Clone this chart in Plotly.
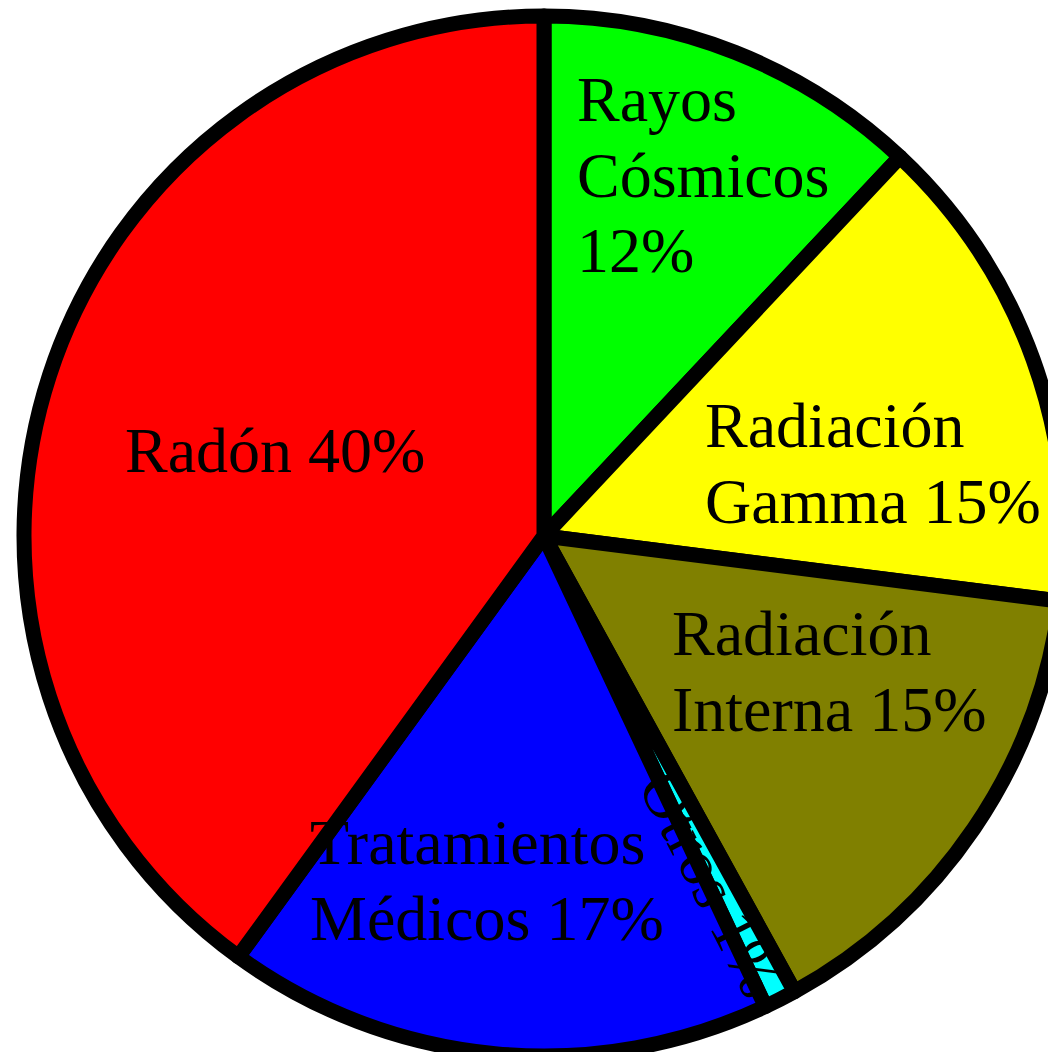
import plotly.graph_objects as go

# ---- data ----
categories = ["Rayos Cósmicos", "Radiación Gamma", "Radiación Interna", "Otros",
              "Tratamientos Médicos", "Radón"]
values = [12, 15, 15, 1, 17, 40]
label_lines = [["Rayos", "Cósmicos", "12%"], ["Radiación", "Gamma 15%"],
               ["Radiación", "Interna 15%"], ["Otros 1%"],
               ["Tratamientos", "Médicos 17%"], ["Radón 40%"]]

# ---- styles / layout ----
colors = ["#00FF00", "#FFFF00", "#808000", "#00FFFF", "#0000FF", "#FF0000"]
W, H = 1056, 1052
R_DOM = 520                      # domain half-size (pie shrinks by half line width)
CX, CY = W - R_DOM, 528          # pie center in pixels (from top-left)
# label block anchors in pixels: (x, y of block center, xanchor)
label_pos = [(567, 167, "left"), (695, 455, "left"), (662, 663, "left"),
             (704, 876, "center"), (300, 872, "left"), (267, 442, "center")]
LINE_GAP = 76
FONT = dict(family="Liberation Serif, Times New Roman, serif", size=64, color="black")

fig = go.Figure(go.Pie(
    labels=categories, values=values, sort=False, direction="clockwise",
    rotation=0, textinfo="none", hoverinfo="none", showlegend=False,
    marker=dict(colors=colors, line=dict(color="black", width=15)),
    domain=dict(x=[(CX - R_DOM) / W, 1.0],
                y=[(H - CY - R_DOM) / H, (H - CY + R_DOM) / H]),
))

total = sum(values)
cum = 0
for v, lines, (px, py, anchor) in zip(values, label_lines, label_pos):
    mid = 360 * (cum + v / 2) / total
    cum += v
    angle = mid - 90 if lines[0].startswith("Otros") else 0
    n = len(lines)
    for i, line in enumerate(lines):
        ly = py + (i - (n - 1) / 2) * LINE_GAP
        fig.add_annotation(
            x=px / W, y=1 - ly / H, xref="paper", yref="paper",
            text=line, showarrow=False, font=FONT, align="left",
            xanchor=anchor, yanchor="middle", textangle=angle,
        )

fig.update_layout(width=W, height=H, margin=dict(l=0, r=0, t=0, b=0),
                  paper_bgcolor="white", plot_bgcolor="white")
fig.write_html("out.html")
